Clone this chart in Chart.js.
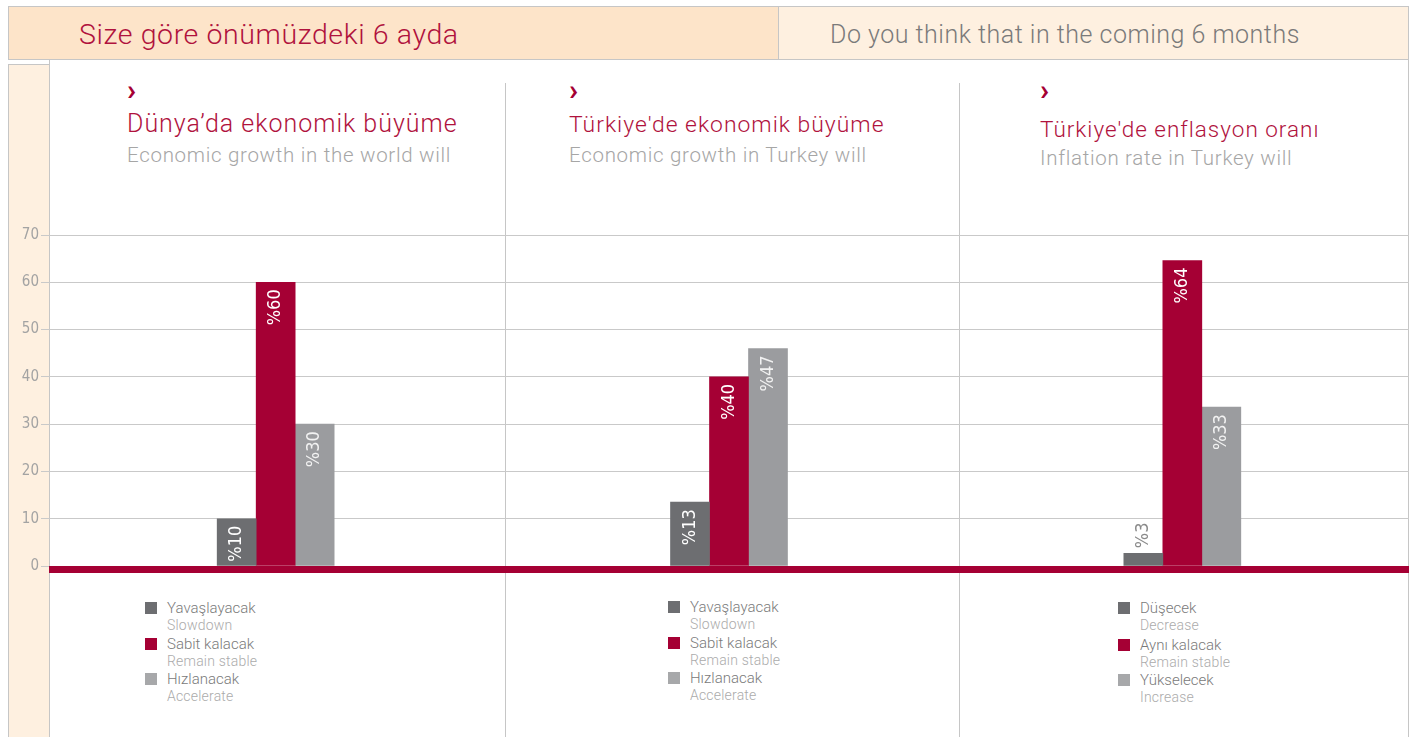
<!DOCTYPE html>
<html lang="tr">
<head>
<meta charset="utf-8">
<title>Size göre önümüzdeki 6 ayda</title>
<script src="https://cdn.jsdelivr.net/npm/chart.js@4.4.1/dist/chart.umd.min.js"></script>
<style>
  html, body { margin: 0; padding: 0; background: #fff; }
  body { width: 1418px; height: 737px; position: relative; overflow: hidden;
         font-family: Roboto, "Open Sans", sans-serif; font-weight: 300; }
  .abs { position: absolute; box-sizing: border-box; }
  #hdrL { left: 8px; top: 6px; width: 771px; height: 54px; background: #fde4c9;
          border: 1px solid #c6c6c6; color: #b0123d; font-size: 28.5px; letter-spacing: 0.6px;
          line-height: 55px; padding-left: 70px; white-space: nowrap; }
  #hdrR { left: 778px; top: 6px; width: 631px; height: 54px; background: #fef0e0;
          border: 1px solid #c6c6c6; color: #7a7a7a; font-size: 25px; letter-spacing: 0.5px;
          line-height: 55px; padding-left: 51px; white-space: nowrap; }
  #strip { left: 8px; top: 64px; width: 42px; height: 680px; background: #fef0e0;
           border: 1px solid #c6c6c6; }
  #panel { left: 49px; top: 59px; width: 1360px; height: 690px; background: #fff;
           border-left: 1px solid #c6c6c6; border-right: 1px solid #c6c6c6; }
  .sep { top: 83px; width: 1px; height: 660px; background: #c6c6c6; }
  .chev { color: #a50034; font-size: 30px; font-weight: 700; line-height: 20px; }
  .ttl { color: #b0123d; letter-spacing: 1px; white-space: nowrap; }
  .sub { color: #a6a6a6; font-size: 20.5px; letter-spacing: 0.7px; white-space: nowrap; }
  .sw { width: 12px; height: 12px; }
  .ltr { color: #7a7a7a; font-size: 15px; white-space: nowrap; line-height: 16px; }
  .len { color: #ababab; font-size: 14px; letter-spacing: 0.2px; white-space: nowrap; line-height: 14px; }
  #chartBox { left: 0; top: 224px; width: 1409px; height: 353px; }
</style>
</head>
<body>
<div id="panel" class="abs"></div>
<div id="strip" class="abs"></div>
<div id="hdrL" class="abs">Size göre önümüzdeki 6 ayda</div>
<div id="hdrR" class="abs">Do you think that in the coming 6 months</div>
<div class="abs sep" style="left:505px"></div>
<div class="abs sep" style="left:959px"></div>
<div id="chartBox" class="abs"><canvas id="grafico"></canvas></div>

<script>
// panel (category) titles
const panelTitles = ['Dünya’da ekonomik büyüme', "Türkiye'de ekonomik büyüme", "Türkiye'de enflasyon oranı"];
const panelSubtitles = ['Economic growth in the world will', 'Economic growth in Turkey will', 'Inflation rate in Turkey will'];

// legend texts per panel
const legendTr = [
    ['Yavaşlayacak', 'Sabit kalacak', 'Hızlanacak'],
    ['Yavaşlayacak', 'Sabit kalacak', 'Hızlanacak'],
    ['Düşecek', 'Aynı kalacak', 'Yükselecek']
];
const legendEn = [
    ['Slowdown', 'Remain stable', 'Accelerate'],
    ['Slowdown', 'Remain stable', 'Accelerate'],
    ['Decrease', 'Remain stable', 'Increase']
];

// bar values and printed labels
const slowValues = [10, 13.5, 2.7];
const stableValues = [60, 40, 64.6];
const fastValues = [30, 46, 33.6];
const slowLabels = ['%10', '%13', '%3'];
const stableLabels = ['%60', '%40', '%64'];
const fastLabels = ['%30', '%47', '%33'];

const yTicks = [0, 10, 20, 30, 40, 50, 60, 70];

const colores = ['#6d6e71', '#a50034', '#9b9c9f'];
const legendColores = ['#6d6e71', '#a50034', '#a7a8aa'];

document.addEventListener('DOMContentLoaded', function () {
    // titles and legends in HTML
    const titleX = [127, 569, 1040];
    const titleY = [[80, 109, 143], [80, 111, 143], [80, 116, 146]];
    const titleSize = [25, 22.9, 22.5];
    const legendX = [145, 668, 1118];
    const legendY = [[602, 638, 673], [601, 637, 672], [602, 639, 674]];

    panelTitles.forEach(function (t, i) {
        addDiv('chev', titleX[i], titleY[i][0], '›');
        const tt = addDiv('ttl', titleX[i], titleY[i][1], t);
        tt.style.fontSize = titleSize[i] + 'px';
        addDiv('sub', titleX[i], titleY[i][2], panelSubtitles[i]);
        for (let k = 0; k < 3; k++) {
            const sw = addDiv('sw', legendX[i], legendY[i][k], '');
            sw.style.background = legendColores[k];
            addDiv('ltr', legendX[i] + 22, legendY[i][k] - 2, legendTr[i][k]);
            addDiv('len', legendX[i] + 22, legendY[i][k] + 16, legendEn[i][k]);
        }
    });

    function addDiv(cls, x, y, text) {
        const d = document.createElement('div');
        d.className = 'abs ' + cls;
        d.style.left = x + 'px';
        d.style.top = y + 'px';
        d.textContent = text;
        document.body.appendChild(d);
        return d;
    }

    const fuente = '"Liberation Sans Narrow", "DejaVu Sans Condensed", Roboto, sans-serif';

    // thick red zero line
    const lineaBase = {
        id: 'lineaBase',
        afterDatasetsDraw(chart) {
            const ctx = chart.ctx;
            const y0 = chart.scales.y.getPixelForValue(0);
            ctx.save();
            ctx.fillStyle = '#a50034';
            ctx.fillRect(chart.chartArea.left, y0, chart.chartArea.right - chart.chartArea.left, 7);
            ctx.restore();
        }
    };

    // rotated value labels
    const etiquetas = {
        id: 'etiquetas',
        afterDraw(chart) {
            const ctx = chart.ctx;
            const textos = [slowLabels, stableLabels, fastLabels];
            ctx.save();
            ctx.font = '300 18px ' + fuente;
            chart.data.datasets.forEach(function (ds, di) {
                const meta = chart.getDatasetMeta(di);
                meta.data.forEach(function (bar, i) {
                    const txt = textos[di][i];
                    const w = ctx.measureText(txt).width;
                    const alto = bar.base - bar.y;
                    ctx.save();
                    ctx.textBaseline = 'middle';
                    if (alto > w + 6) {
                        ctx.translate(bar.x, bar.y + 7);
                        ctx.rotate(-Math.PI / 2);
                        ctx.textAlign = 'right';
                        ctx.fillStyle = di === 2 ? '#f2f2f2' : '#ffffff';
                    } else {
                        ctx.translate(bar.x, bar.y - 5);
                        ctx.rotate(-Math.PI / 2);
                        ctx.textAlign = 'left';
                        ctx.fillStyle = '#8a8a8a';
                    }
                    ctx.fillText(txt, 0, 0);
                    ctx.restore();
                });
            });
            ctx.restore();
        }
    };

    const ctx = document.getElementById('grafico').getContext('2d');
    new Chart(ctx, {
        type: 'bar',
        data: {
            labels: panelTitles,
            datasets: [
                { label: 'Yavaşlayacak / Düşecek', data: slowValues, backgroundColor: colores[0] },
                { label: 'Sabit kalacak / Aynı kalacak', data: stableValues, backgroundColor: colores[1] },
                { label: 'Hızlanacak / Yükselecek', data: fastValues, backgroundColor: colores[2] }
            ]
        },
        options: {
            responsive: true,
            maintainAspectRatio: false,
            animation: false,
            barThickness: 39,
            layout: { padding: { top: 10, bottom: 9, left: 0, right: 0 } },
            plugins: {
                legend: { display: false },
                tooltip: { enabled: false }
            },
            scales: {
                x: { display: false },
                y: {
                    min: 0,
                    max: 70,
                    afterFit: function (scale) { scale.width = 49; },
                    afterBuildTicks: function (scale) {
                        scale.ticks = yTicks.map(v => ({ value: v }));
                    },
                    grid: { color: '#c9c9c9', lineWidth: 1, tickLength: 8, drawTicks: true },
                    border: { display: false },
                    ticks: {
                        color: '#a3a3a3',
                        padding: 2,
                        font: { family: fuente, size: 15 }
                    }
                }
            }
        },
        plugins: [lineaBase, etiquetas]
    });
});
</script>
</body>
</html>
